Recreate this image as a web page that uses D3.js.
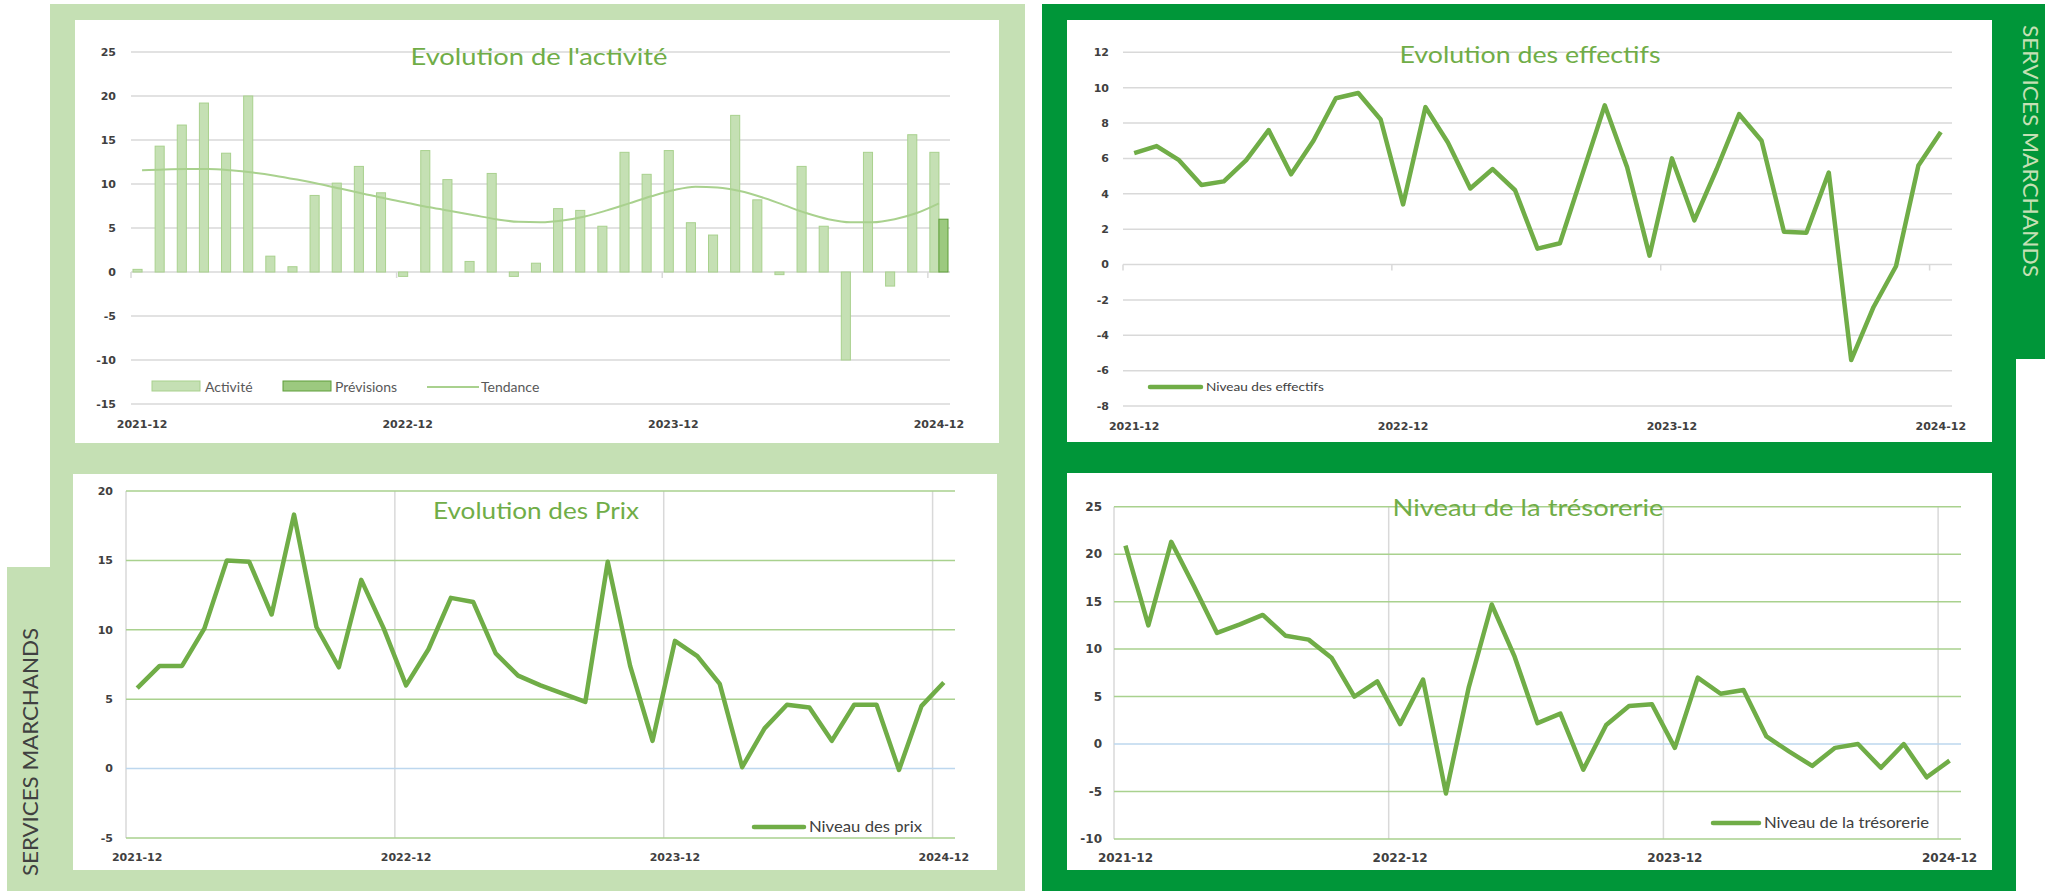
<!DOCTYPE html>
<html>
<head>
<meta charset="utf-8">
<script src="https://cdn.jsdelivr.net/npm/d3@7"></script>
<style>
  body { margin: 0; background: #fff; }
</style>
</head>
<body>
<div id="chart"></div>
<script>
// data
var months = ["2021-12",
  "2022-01","2022-02","2022-03","2022-04","2022-05","2022-06","2022-07","2022-08","2022-09","2022-10","2022-11","2022-12",
  "2023-01","2023-02","2023-03","2023-04","2023-05","2023-06","2023-07","2023-08","2023-09","2023-10","2023-11","2023-12",
  "2024-01","2024-02","2024-03","2024-04","2024-05","2024-06","2024-07","2024-08","2024-09","2024-10","2024-11","2024-12"];
var tickMonths = ["2021-12", "2022-12", "2023-12", "2024-12"];

var activite = [0.3, 14.3, 16.7, 19.2, 13.5, 20.0, 1.8, 0.6, 8.7, 10.1, 12.0, 9.0, -0.5,
  13.8, 10.5, 1.2, 11.2, -0.5, 1.0, 7.2, 7.0, 5.2, 13.6, 11.1, 13.8,
  5.6, 4.2, 17.8, 8.2, -0.3, 12.0, 5.2, -10.0, 13.6, -1.6, 15.6, 13.6];
var previsions = [null, null, null, null, null, null, null, null, null, null, null, null, null,
  null, null, null, null, null, null, null, null, null, null, null, null,
  null, null, null, null, null, null, null, null, null, null, null, 6.0];
var tendance = [11.55, 11.65, 11.7, 11.7, 11.55, 11.3, 10.95, 10.5, 10.0, 9.45, 8.9, 8.35, 7.85,
  7.35, 6.9, 6.45, 6.0, 5.7, 5.65, 5.85, 6.3, 7.0, 7.8, 8.6, 9.3,
  9.7, 9.6, 9.2, 8.5, 7.6, 6.7, 6.0, 5.65, 5.65, 6.0, 6.7, 7.8];
var effectifs = [6.3, 6.7, 5.9, 4.5, 4.7, 5.9, 7.6, 5.1, 7.0, 9.4, 9.7, 8.2, 3.4,
  8.9, 6.9, 4.3, 5.4, 4.2, 0.9, 1.2, 5.1, 9.0, 5.5, 0.5, 6.0,
  2.5, 5.4, 8.5, 7.0, 1.85, 1.8, 5.2, -5.4, -2.4, -0.1, 5.6, 7.5];
var prix = [5.8, 7.4, 7.4, 10.1, 15.0, 14.9, 11.1, 18.3, 10.2, 7.3, 13.6, 10.1, 6.0,
  8.6, 12.3, 12.0, 8.3, 6.7, 6.0, 5.4, 4.8, 14.9, 7.4, 2.0, 9.2,
  8.1, 6.1, 0.1, 2.9, 4.6, 4.4, 2.0, 4.6, 4.6, -0.1, 4.5, 6.2];
var tresorerie = [20.9, 12.5, 21.3, 16.6, 11.7, 12.6, 13.6, 11.4, 11.0, 9.1, 5.0, 6.6, 2.1,
  6.8, -5.2, 6.0, 14.7, 9.2, 2.2, 3.2, -2.7, 2.0, 4.0, 4.2, -0.4,
  7.0, 5.3, 5.7, 0.8, -0.8, -2.3, -0.4, 0.0, -2.5, 0.0, -3.5, -1.75];

var ticksActivite = [-15, -10, -5, 0, 5, 10, 15, 20, 25];
var ticksEffectifs = [-8, -6, -4, -2, 0, 2, 4, 6, 8, 10, 12];
var ticksPrix = [-5, 0, 5, 10, 15, 20];
var ticksTresorerie = [-10, -5, 0, 5, 10, 15, 20, 25];

var lightGreen = "#c5e0b4", darkGreen = "#009639", lineGreen = "#70ad47";
var axisFont = "DejaVu Sans", textFont = "Lato";

var svg = d3.select("#chart")
  .append("svg")
    .attr("width", 2045)
    .attr("height", 891);

// frames
svg.append("rect").attr("x", 50).attr("y", 4).attr("width", 975).attr("height", 887).attr("fill", lightGreen);
svg.append("rect").attr("x", 7).attr("y", 567).attr("width", 66).attr("height", 324).attr("fill", lightGreen);
svg.append("rect").attr("x", 1042).attr("y", 4).attr("width", 974).attr("height", 887).attr("fill", darkGreen);
svg.append("rect").attr("x", 1992).attr("y", 4).attr("width", 53).attr("height", 355).attr("fill", darkGreen);
svg.append("rect").attr("x", 75).attr("y", 20).attr("width", 924).attr("height", 423).attr("fill", "#fff");
svg.append("rect").attr("x", 73).attr("y", 474).attr("width", 924).attr("height", 396).attr("fill", "#fff");
svg.append("rect").attr("x", 1067).attr("y", 20).attr("width", 925).attr("height", 422).attr("fill", "#fff");
svg.append("rect").attr("x", 1067).attr("y", 473).attr("width", 925).attr("height", 397).attr("fill", "#fff");

// side labels
svg.append("text")
  .attr("transform", "translate(38,876)rotate(-90)")
  .attr("font-family", textFont).attr("font-size", 21).attr("fill", "#404040")
  .attr("textLength", 248).attr("lengthAdjust", "spacingAndGlyphs")
  .text("SERVICES MARCHANDS");
svg.append("text")
  .attr("transform", "translate(2023,25)rotate(90)")
  .attr("font-family", textFont).attr("font-size", 21).attr("fill", lightGreen)
  .attr("textLength", 252).attr("lengthAdjust", "spacingAndGlyphs")
  .text("SERVICES MARCHANDS");

function panel(o) {
  var g = svg.append("g");
  var x = d3.scaleBand().domain(months).range(o.xr);
  var y = d3.scaleLinear().domain(o.yd).range(o.yr);
  var cx = function(m) { return x(m) + x.bandwidth() / 2; };

  if (o.boxed) {
    g.selectAll(".vg").data(tickMonths).enter().append("line")
      .attr("x1", function(d) { return x(d); }).attr("x2", function(d) { return x(d); })
      .attr("y1", y(o.yd[1])).attr("y2", y(o.yd[0]))
      .attr("stroke", "#d9d9d9").attr("stroke-width", 1.5);
  }
  g.selectAll(".hg").data(o.ticks).enter().append("line")
    .attr("x1", o.xr[0]).attr("x2", o.xr[1])
    .attr("y1", function(d) { return y(d); }).attr("y2", function(d) { return y(d); })
    .attr("stroke", function(d) {
      if (!o.boxed) return "#d9d9d9";
      return d === 0 ? "#bdd7ee" : "#a9d18e";
    })
    .attr("stroke-width", 1.5);
  if (!o.boxed) {
    g.selectAll(".tk").data(tickMonths).enter().append("line")
      .attr("x1", function(d) { return x(d); }).attr("x2", function(d) { return x(d); })
      .attr("y1", y(0)).attr("y2", y(0) + 6)
      .attr("stroke", "#d9d9d9").attr("stroke-width", 1.5);
  }

  // y labels
  g.selectAll(".yl").data(o.ticks).enter().append("text")
    .attr("x", o.xr[0] - o.lgap).attr("y", function(d) { return y(d); })
    .attr("dy", "0.35em").attr("text-anchor", "end")
    .attr("font-family", axisFont).attr("font-weight", "bold")
    .attr("font-size", o.fs).attr("fill", "#404040")
    .text(function(d) { return d; });
  // x labels
  g.selectAll(".xl").data(tickMonths).enter().append("text")
    .attr("x", cx).attr("y", o.xly)
    .attr("dy", "0.35em").attr("text-anchor", "middle")
    .attr("font-family", axisFont).attr("font-weight", "bold")
    .attr("font-size", o.fs).attr("fill", "#404040")
    .text(function(d) { return d; });

  // title
  g.append("text")
    .attr("x", o.title[1]).attr("y", o.title[2])
    .attr("text-anchor", "middle")
    .attr("font-family", textFont).attr("font-size", 23).attr("fill", lineGreen)
    .attr("textLength", o.title[3]).attr("lengthAdjust", "spacingAndGlyphs")
    .text(o.title[0]);

  return { g: g, x: x, y: y, cx: cx };
}

function lineSeries(p, values, legend) {
  var line = d3.line()
    .x(function(d, i) { return p.cx(months[i]); })
    .y(function(d) { return p.y(d); });
  p.g.append("path")
    .datum(values)
    .attr("d", line)
    .attr("fill", "none").attr("stroke", lineGreen)
    .attr("stroke-width", 4.5).attr("stroke-linejoin", "round");
  p.g.append("line")
    .attr("x1", legend.x).attr("x2", legend.x + legend.w)
    .attr("y1", legend.y).attr("y2", legend.y)
    .attr("stroke", lineGreen).attr("stroke-width", 4.5).attr("stroke-linecap", "round");
  p.g.append("text")
    .attr("x", legend.x + legend.w + 5).attr("y", legend.y).attr("dy", "0.35em")
    .attr("font-family", textFont).attr("font-size", legend.fs).attr("fill", "#404040")
    .attr("textLength", legend.tl).attr("lengthAdjust", "spacingAndGlyphs")
    .text(legend.text);
}

// Evolution de l'activité
var p1 = panel({ xr: [131, 950], yd: [-15, 25], yr: [404, 52], ticks: ticksActivite,
  lgap: 15, fs: 11, xly: 424, boxed: false, title: ["Evolution de l'activité", 539, 65, 257] });
var inner = d3.scaleBand().domain(["a", "p"]).range([0, p1.x.bandwidth() * 0.82]);
var off = p1.x.bandwidth() * 0.09;
p1.g.selectAll(".bar").data(activite).enter().append("rect")
  .attr("x", function(d, i) { return p1.x(months[i]) + off + inner("a"); })
  .attr("width", inner.bandwidth())
  .attr("y", function(d) { return p1.y(Math.max(0, d)); })
  .attr("height", function(d) { return Math.abs(p1.y(d) - p1.y(0)); })
  .attr("fill", lightGreen).attr("stroke", "#a9d18e").attr("stroke-width", 1);
p1.g.selectAll(".prev").data(previsions.map(function(v, i) { return { v: v, m: months[i] }; })
    .filter(function(d) { return d.v !== null; }))
  .enter().append("rect")
  .attr("x", function(d) { return p1.x(d.m) + off + inner("p"); })
  .attr("width", inner.bandwidth())
  .attr("y", function(d) { return p1.y(Math.max(0, d.v)); })
  .attr("height", function(d) { return Math.abs(p1.y(d.v) - p1.y(0)); })
  .attr("fill", "#9cc97f").attr("stroke", "#5f9e3a").attr("stroke-width", 1);
p1.g.append("path")
  .datum(tendance)
  .attr("d", d3.line().curve(d3.curveMonotoneX)
    .x(function(d, i) { return p1.cx(months[i]); })
    .y(function(d) { return p1.y(d); }))
  .attr("fill", "none").attr("stroke", "#a9d18e").attr("stroke-width", 2);
// legend
var lg = p1.g.append("g").attr("font-family", textFont).attr("font-size", 14).attr("fill", "#595959");
lg.append("rect").attr("x", 152).attr("y", 381).attr("width", 48).attr("height", 10)
  .attr("fill", lightGreen).attr("stroke", "#a9d18e");
lg.append("text").attr("x", 205).attr("y", 387).attr("dy", "0.35em").text("Activité");
lg.append("rect").attr("x", 283).attr("y", 381).attr("width", 48).attr("height", 10)
  .attr("fill", "#9cc97f").attr("stroke", "#5f9e3a");
lg.append("text").attr("x", 335).attr("y", 387).attr("dy", "0.35em").text("Prévisions");
lg.append("line").attr("x1", 427).attr("x2", 479).attr("y1", 387).attr("y2", 387)
  .attr("stroke", "#a9d18e").attr("stroke-width", 2);
lg.append("text").attr("x", 481).attr("y", 387).attr("dy", "0.35em").text("Tendance");

// Evolution des effectifs
var p2 = panel({ xr: [1123, 1952], yd: [-8, 12], yr: [406, 52.3], ticks: ticksEffectifs,
  lgap: 14, fs: 11, xly: 426, boxed: false, title: ["Evolution des effectifs", 1530, 63, 261] });
lineSeries(p2, effectifs, { x: 1150, y: 387, w: 51, fs: 12, tl: 118, text: "Niveau des effectifs" });

// Evolution des Prix
var p3 = panel({ xr: [126, 955], yd: [-5, 20], yr: [838, 491], ticks: ticksPrix,
  lgap: 13, fs: 11, xly: 857, boxed: true, title: ["Evolution des Prix", 536, 519, 206] });
lineSeries(p3, prix, { x: 754, y: 827, w: 50, fs: 15, tl: 113, text: "Niveau des prix" });

// Niveau de la trésorerie
var p4 = panel({ xr: [1114, 1961], yd: [-10, 25], yr: [839, 506.7], ticks: ticksTresorerie,
  lgap: 12, fs: 12, xly: 858, boxed: true, title: ["Niveau de la trésorerie", 1528, 516, 271] });
lineSeries(p4, tresorerie, { x: 1713, y: 823, w: 46, fs: 15, tl: 165, text: "Niveau de la trésorerie" });
</script>
</body>
</html>
